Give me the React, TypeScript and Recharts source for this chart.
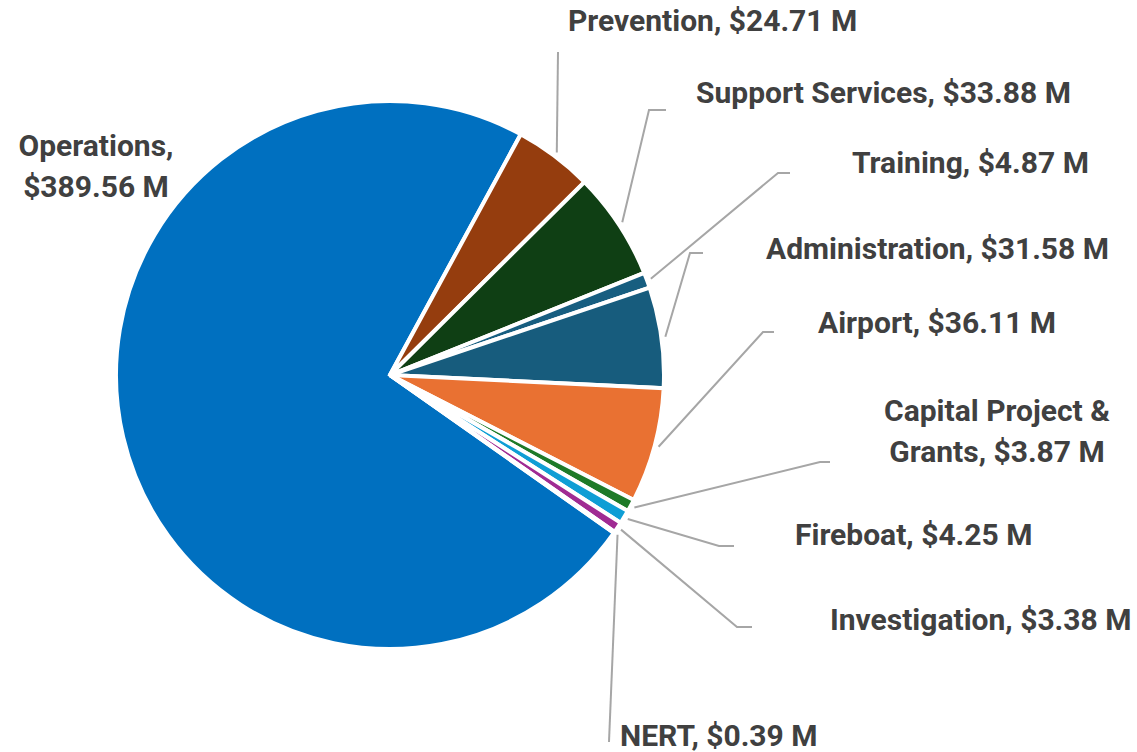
import React from "react";
import { PieChart, Pie, Cell } from "recharts";

// Budget by division, $ millions
const categories = [
  "Operations",
  "Prevention",
  "Support Services",
  "Training",
  "Administration",
  "Airport",
  "Capital Project & Grants",
  "Fireboat",
  "Investigation",
  "NERT",
];
const amounts = [389.56, 24.71, 33.88, 4.87, 31.58, 36.11, 3.87, 4.25, 3.38, 0.39];
const colors = [
  "#0070C0",
  "#953D0E",
  "#0F3F14",
  "#175E80",
  "#175C7D",
  "#E97132",
  "#1E7A28",
  "#0F9ED5",
  "#A02B93",
  "#4EA72E",
];

// label placement (page coords): elbow + end of leader line, text anchor, words on first line
type LabelSpot = {
  line?: [number, number, number, number];
  tx: number;
  ty: number;
  anchor: "start" | "middle";
  breakAt?: number;
};
const labelSpots: LabelSpot[] = [
  { tx: 96, ty: 145, anchor: "middle", breakAt: 1 },
  { line: [558, 52, 558, 52], tx: 568, ty: 20, anchor: "start" },
  { line: [649, 110, 666, 110], tx: 696, ty: 92, anchor: "start" },
  { line: [778, 173, 790, 173], tx: 852, ty: 162, anchor: "start" },
  { line: [690, 253, 703, 253], tx: 766, ty: 248, anchor: "start" },
  { line: [763, 332, 774, 332], tx: 818, ty: 322, anchor: "start" },
  { line: [820, 462, 830, 462], tx: 997, ty: 410, anchor: "middle", breakAt: 3 },
  { line: [719, 546, 734, 546], tx: 795, ty: 534, anchor: "start" },
  { line: [737, 627, 752, 627], tx: 830, ty: 619, anchor: "start" },
  { line: [609, 742, 609, 742], tx: 620, ty: 735, anchor: "start" },
];

const data = categories.map((name, i) => ({ name, value: amounts[i] }));

const RADIAN = Math.PI / 180;
const FONT = "Roboto, 'Noto Sans', sans-serif";

function renderLabel(props: any) {
  const { cx, cy, midAngle, outerRadius, index } = props;
  const spot = labelSpots[index];
  const text = `${categories[index]}, $${amounts[index].toFixed(2)} M`;
  const words = text.split(" ");
  const lines = spot.breakAt
    ? [words.slice(0, spot.breakAt).join(" "), words.slice(spot.breakAt).join(" ")]
    : [text];

  let leader = null;
  if (spot.line) {
    const r = outerRadius + 4;
    const sx = cx + r * Math.cos(-midAngle * RADIAN);
    const sy = cy + r * Math.sin(-midAngle * RADIAN);
    const [ex, ey, fx, fy] = spot.line;
    leader = (
      <polyline
        points={`${sx},${sy} ${ex},${ey} ${fx},${fy}`}
        fill="none"
        stroke="#A6A6A6"
        strokeWidth={2}
      />
    );
  }

  return (
    <g key={`lbl-${index}`}>
      {leader}
      {lines.map((ln, j) => (
        <text
          key={j}
          x={spot.tx}
          y={spot.ty + j * 41}
          textAnchor={spot.anchor}
          dominantBaseline="central"
          fill="#404040"
          fontFamily={FONT}
          fontWeight="bold"
          fontSize={30}
        >
          {ln}
        </text>
      ))}
    </g>
  );
}

export default function App() {
  return (
    <div style={{ position: "absolute", left: 0, top: 0, background: "#fff" }}>
      <PieChart width={1137} height={752} margin={{ top: 0, right: 0, bottom: 0, left: 0 }}>
        <Pie
          data={data}
          dataKey="value"
          nameKey="name"
          cx={390}
          cy={375}
          outerRadius={274}
          startAngle={-35.2}
          endAngle={-395.2}
          stroke="#ffffff"
          strokeWidth={4}
          label={renderLabel}
          labelLine={false}
          isAnimationActive={false}
        >
          {data.map((d, i) => (
            <Cell key={d.name} fill={colors[i]} />
          ))}
        </Pie>
      </PieChart>
    </div>
  );
}
